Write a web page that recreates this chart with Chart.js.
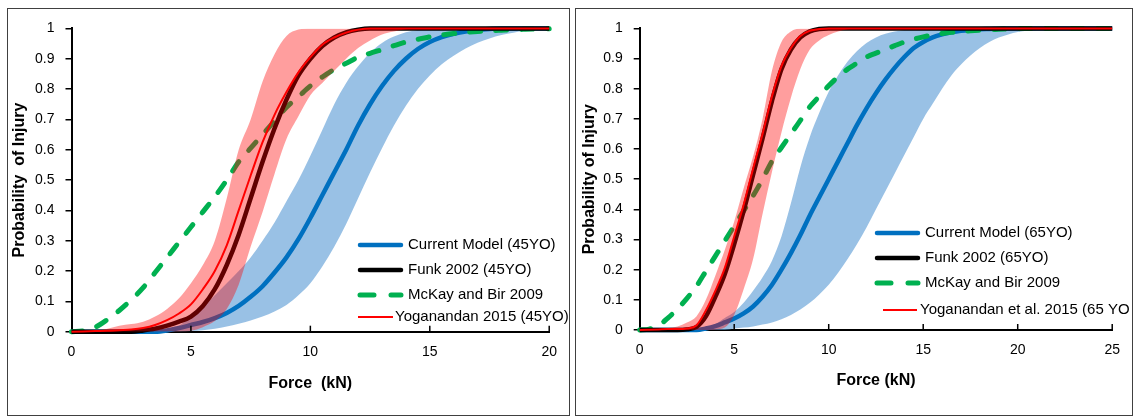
<!DOCTYPE html>
<html>
<head>
<meta charset="utf-8">
<script src="https://cdn.jsdelivr.net/npm/chart.js@4.4.1/dist/chart.umd.min.js"></script>
<style>
  html, body { margin: 0; padding: 0; background: #fff; }
  body { width: 1133px; height: 417px; position: relative; overflow: hidden; }
  .panel { position: absolute; top: 8px; height: 406px; border: 1px solid #404040; }
  #panelL { left: 7px; width: 561px; }
  #panelR { left: 575px; width: 556px; }
  canvas { display: block; }
</style>
</head>
<body>
<div class="panel" id="panelL"><canvas id="chartL" width="561" height="406"></canvas></div>
<div class="panel" id="panelR"><canvas id="chartR" width="556" height="406"></canvas></div>
<script>
// Force grids (kN)
const forceL = [0,0.5,1,1.5,2,2.5,3,3.5,4,4.5,5,5.5,6,6.5,7,7.5,8,8.5,9,9.5,10,10.5,11,11.5,12,12.5,13,13.5,14,14.5,15,15.5,16,16.5,17,17.5,18,18.5,19,19.5,20];
const forceR = [0,0.5,1,1.5,2,2.5,3,3.5,4,4.5,5,5.5,6,6.5,7,7.5,8,8.5,9,9.5,10,10.5,11,11.5,12,12.5,13,13.5,14,14.5,15,15.5,16,16.5,17,17.5,18,18.5,19,19.5,20,20.5,21,21.5,22,22.5,23,23.5,24,24.5,25];

// 45YO panel
const current45   = [0,0,0,0,0,0,0,0,0.004,0.012,0.022,0.032,0.045,0.062,0.085,0.115,0.15,0.195,0.245,0.305,0.375,0.45,0.525,0.6,0.68,0.75,0.81,0.86,0.9,0.932,0.955,0.971,0.982,0.99,0.995,0.998,1,1,1,1,1];
const current45Lo = [0,0,0,0,0,0,0,0,0,0,0.002,0.005,0.01,0.017,0.026,0.037,0.05,0.067,0.088,0.12,0.16,0.215,0.28,0.355,0.44,0.525,0.605,0.68,0.745,0.8,0.845,0.882,0.91,0.934,0.953,0.967,0.978,0.986,0.992,0.996,0.998];
const current45Hi = [0,0,0,0,0,0,0,0,0.005,0.02,0.05,0.08,0.12,0.16,0.2,0.245,0.3,0.36,0.43,0.5,0.58,0.665,0.75,0.82,0.875,0.92,0.952,0.973,0.987,0.995,1,1,1,1,1,1,1,1,1,1,1];
const funk45      = [0,0,0,0,0,0,0.004,0.01,0.02,0.033,0.05,0.085,0.14,0.22,0.32,0.44,0.56,0.67,0.765,0.845,0.9,0.942,0.97,0.987,0.996,1,1,1,1,1,1,1,1,1,1,1,1,1,1,1,1];
const yog45       = [0,0.001,0.002,0.003,0.005,0.007,0.012,0.022,0.038,0.06,0.09,0.14,0.2,0.285,0.4,0.515,0.625,0.715,0.79,0.855,0.905,0.946,0.97,0.986,0.996,1,1,1,1,1,1,1,1,1,1,1,1,1,1,1,1];
const yog45Lo     = [0,0,0,0,0,0,0,0,0,0,0.003,0.015,0.035,0.075,0.155,0.28,0.395,0.52,0.635,0.71,0.78,0.82,0.86,0.9,0.935,0.96,0.98,0.99,0.997,1,1,1,1,1,1,1,1,1,1,1,1];
const yog45Hi     = [0,0.001,0.003,0.01,0.02,0.025,0.033,0.05,0.075,0.11,0.16,0.22,0.3,0.44,0.6,0.7,0.825,0.915,0.975,0.996,1,1,1,1,1,1,1,1,1,1,1,1,1,1,1,1,1,1,1,1,1];

// McKay and Bir 2009 (same curve in both panels, on forceR grid)
const mckay = [0,0.003,0.015,0.04,0.07,0.105,0.145,0.195,0.245,0.295,0.345,0.395,0.445,0.5,0.56,0.605,0.65,0.695,0.74,0.775,0.81,0.84,0.865,0.885,0.905,0.918,0.93,0.943,0.955,0.964,0.972,0.978,0.983,0.987,0.99,0.992,0.994,0.996,0.997,0.998,0.999,1,1,1,1,1,1,1,1,1,1];

// 65YO panel
const current65   = [0,0,0,0,0,0,0,0.005,0.013,0.025,0.038,0.055,0.078,0.11,0.15,0.2,0.255,0.315,0.38,0.44,0.5,0.56,0.62,0.68,0.735,0.785,0.83,0.87,0.905,0.935,0.955,0.97,0.98,0.987,0.992,0.995,0.997,0.998,0.999,1,1,1,1,1,1,1,1,1,1,1,1];
const current65Lo = [0,0,0,0,0,0,0,0,0,0,0.005,0.008,0.012,0.018,0.025,0.036,0.05,0.068,0.09,0.118,0.15,0.19,0.235,0.285,0.34,0.4,0.46,0.52,0.58,0.64,0.7,0.75,0.8,0.845,0.88,0.91,0.935,0.955,0.97,0.98,0.988,0.992,0.995,0.997,0.999,1,1,1,1,1,1];
const current65Hi = [0,0,0,0,0,0,0,0.008,0.02,0.04,0.06,0.09,0.13,0.175,0.23,0.31,0.42,0.54,0.64,0.72,0.79,0.845,0.89,0.925,0.952,0.97,0.982,0.99,0.995,0.998,1,1,1,1,1,1,1,1,1,1,1,1,1,1,1,1,1,1,1,1,1];
const funk65      = [0,0,0,0,0,0.002,0.01,0.045,0.11,0.185,0.285,0.395,0.515,0.635,0.76,0.865,0.93,0.97,0.99,0.998,1,1,1,1,1,1,1,1,1,1,1,1,1,1,1,1,1,1,1,1,1,1,1,1,1,1,1,1,1,1,1];
const yog65       = [0,0.001,0.002,0.003,0.003,0.005,0.015,0.065,0.13,0.205,0.31,0.415,0.535,0.65,0.775,0.875,0.935,0.975,0.992,0.998,1,1,1,1,1,1,1,1,1,1,1,1,1,1,1,1,1,1,1,1,1,1,1,1,1,1,1,1,1,1,1];
const yog65Lo     = [0,0,0,0,0,0,0,0,0.002,0.008,0.05,0.135,0.235,0.385,0.525,0.655,0.77,0.865,0.93,0.96,0.978,0.99,0.997,1,1,1,1,1,1,1,1,1,1,1,1,1,1,1,1,1,1,1,1,1,1,1,1,1,1,1,1];
const yog65Hi     = [0,0.001,0.003,0.007,0.012,0.025,0.045,0.1,0.18,0.265,0.36,0.47,0.575,0.7,0.86,0.955,0.99,1,1,1,1,1,1,1,1,1,1,1,1,1,1,1,1,1,1,1,1,1,1,1,1,1,1,1,1,1,1,1,1,1,1];

// Tick labels and legend texts
const yTicks = ['0','0.1','0.2','0.3','0.4','0.5','0.6','0.7','0.8','0.9','1'];
const xTicksL = ['0','5','10','15','20'];
const xTicksR = ['0','5','10','15','20','25'];
const legendL = ['Current Model (45YO)','Funk 2002 (45YO)','McKay and Bir 2009','Yoganandan 2015 (45YO)'];
const legendR = ['Current Model (65YO)','Funk 2002 (65YO)','McKay and Bir 2009','Yoganandan et al. 2015 (65 YO'];

Chart.defaults.font.family = "'Liberation Sans', Arial, sans-serif";
Chart.defaults.font.size = 14;
Chart.defaults.color = '#000';

// small ticks pointing up from the x axis
const xInnerTicks = {
    id: 'xInnerTicks',
    afterDatasetsDraw(chart) {
        const sc = chart.scales.x, area = chart.chartArea, ctx = chart.ctx;
        ctx.save();
        ctx.strokeStyle = '#000';
        ctx.lineWidth = 1.5;
        sc.ticks.forEach(t => {
            if (t.value === sc.min) return;
            const px = sc.getPixelForValue(t.value);
            ctx.beginPath();
            ctx.moveTo(px, area.bottom);
            ctx.lineTo(px, area.bottom - 6);
            ctx.stroke();
        });
        ctx.restore();
    }
};

// legend drawn inside the plot, lower right
const insideLegend = {
    id: 'insideLegend',
    afterDraw(chart, args, opts) {
        const ctx = chart.ctx;
        ctx.save();
        ctx.font = "15px 'Liberation Sans', Arial, sans-serif";
        ctx.fillStyle = '#000';
        ctx.textBaseline = 'middle';
        opts.items.forEach((idx, i) => {
            const ds = chart.data.datasets[idx];
            const y = opts.rows[i];
            const thin = ds.borderWidth < 3;
            const x0 = thin ? opts.thinX0 : opts.x0;
            const x1 = thin ? opts.thinX1 : opts.x1;
            const tx = thin ? opts.thinTx : opts.tx;
            ctx.strokeStyle = ds.borderColor;
            ctx.lineWidth = ds.borderWidth;
            ctx.lineCap = thin ? 'butt' : 'round';
            ctx.setLineDash(ds.legendDash || []);
            ctx.beginPath();
            ctx.moveTo(x0, y);
            ctx.lineTo(x1, y);
            ctx.stroke();
            ctx.setLineDash([]);
            ctx.fillText(ds.legendText, tx, y);
        });
        ctx.restore();
    }
};

function makeChart(id, force, s, cfg) {
    const pts = ys => force.map((x, i) => ({x: x, y: ys[i]}));
    const base = {pointRadius: 0, fill: false, cubicInterpolationMode: 'monotone', clip: false};
    const datasets = [
        Object.assign({}, base, {data: pts(s.yog), borderColor: '#FF0000', borderWidth: 2, order: 0, legendText: cfg.labels[3]}),
        Object.assign({}, base, {data: pts(s.yogLo), borderColor: 'rgba(0,0,0,0)', borderWidth: 0, order: 1}),
        Object.assign({}, base, {data: pts(s.yogHi), borderColor: 'rgba(0,0,0,0)', borderWidth: 0, order: 1,
            fill: '-1', backgroundColor: 'rgba(255,0,0,0.38)'}),
        Object.assign({}, base, {data: pts(s.funk), borderColor: '#000000', borderWidth: 4.5, order: 2, legendText: cfg.labels[1]}),
        Object.assign({}, base, {data: pts(s.mckay), borderColor: '#00B050', borderWidth: 5, order: 3,
            borderDash: [11, 15], borderCapStyle: 'round', legendDash: [14, 17], legendText: cfg.labels[2]}),
        Object.assign({}, base, {data: pts(s.current), borderColor: '#0070C0', borderWidth: 4.5, order: 4, legendText: cfg.labels[0]}),
        Object.assign({}, base, {data: pts(s.currentLo), borderColor: 'rgba(0,0,0,0)', borderWidth: 0, order: 5}),
        Object.assign({}, base, {data: pts(s.currentHi), borderColor: 'rgba(0,0,0,0)', borderWidth: 0, order: 5,
            fill: '-1', backgroundColor: 'rgba(91,155,213,0.62)'})
    ];

    return new Chart(document.getElementById(id), {
        type: 'line',
        data: {datasets: datasets},
        plugins: [xInnerTicks, insideLegend],
        options: {
            responsive: false,
            animation: false,
            events: [],
            layout: {padding: cfg.pad},
            plugins: {
                legend: {display: false},
                tooltip: {enabled: false},
                insideLegend: cfg.legend
            },
            scales: {
                x: {
                    type: 'linear',
                    min: 0,
                    max: cfg.xMax,
                    ticks: {stepSize: 5, padding: 12, callback: (v, i) => cfg.xTicks[i]},
                    grid: {display: true, drawOnChartArea: false, drawTicks: false},
                    border: {color: '#000', width: 2},
                    title: {display: true, text: cfg.xTitle, font: {size: 16, weight: 'bold'},
                        padding: {top: 0, bottom: cfg.xTitlePad}},
                    afterFit: sc => { sc.height = cfg.xHeight; }
                },
                y: {
                    min: 0,
                    max: 1,
                    ticks: {stepSize: 0.1, padding: 11, callback: (v, i) => yTicks[i]},
                    grid: {drawOnChartArea: false, drawTicks: true, tickLength: 6, color: '#000', lineWidth: 1.5},
                    border: {color: '#000', width: 2},
                    title: {display: true, text: cfg.yTitle, font: {size: 16, weight: 'bold'},
                        padding: {top: cfg.yTitlePad, bottom: 0}},
                    afterFit: sc => { sc.width = cfg.yWidth; }
                }
            }
        }
    });
}

makeChart('chartL', forceL, {
    current: current45, currentLo: current45Lo, currentHi: current45Hi,
    funk: funk45, yog: yog45, yogLo: yog45Lo, yogHi: yog45Hi, mckay: mckay.slice(0, forceL.length)
}, {
    labels: legendL, xTicks: xTicksL, xMax: 20,
    xTitle: 'Force  (kN)', yTitle: 'Probability  of Injury',
    pad: {left: 0, right: 17.5, top: 18.5, bottom: 0},
    yWidth: 63.5, xHeight: 83.3, yTitlePad: 2.4, xTitlePad: 21.4,
    legend: {items: [5, 3, 4, 0], rows: [236, 261, 286, 308],
        x0: 352, x1: 393, tx: 400, thinX0: 350, thinX1: 385, thinTx: 387}
});

makeChart('chartR', forceR, {
    current: current65, currentLo: current65Lo, currentHi: current65Hi,
    funk: funk65, yog: yog65, yogLo: yog65Lo, yogHi: yog65Hi, mckay: mckay
}, {
    labels: legendR, xTicks: xTicksR, xMax: 25,
    xTitle: 'Force (kN)', yTitle: 'Probability of Injury',
    pad: {left: 0, right: 13.5, top: 18.3, bottom: 0},
    yWidth: 63.7, xHeight: 85, yTitlePad: 4.4, xTitlePad: 24.4,
    legend: {items: [5, 3, 4, 0], rows: [224, 249, 274, 301],
        x0: 301, x1: 342, tx: 349, thinX0: 307, thinX1: 341, thinTx: 344}
});
</script>
</body>
</html>
